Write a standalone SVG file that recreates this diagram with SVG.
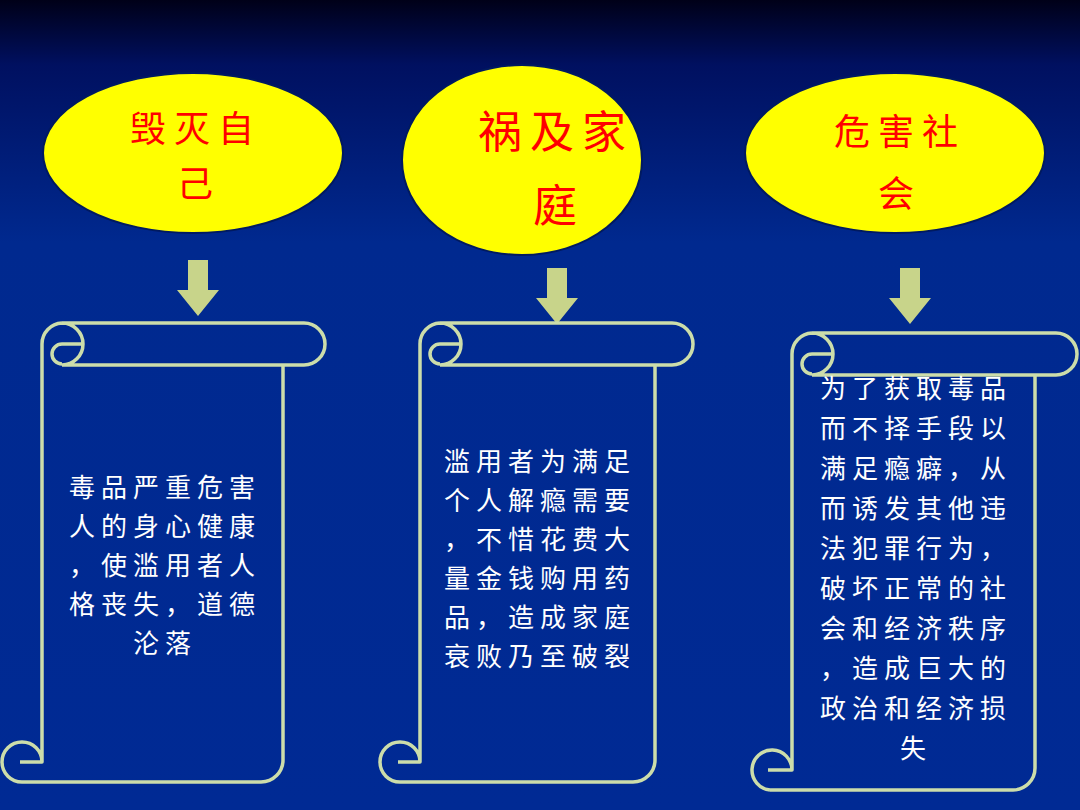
<svg xmlns="http://www.w3.org/2000/svg" width="1080" height="810" viewBox="0 0 1080 810">
<defs>
<linearGradient id="bg" x1="0" y1="0" x2="0" y2="1">
<stop offset="0" stop-color="#000018"/><stop offset="0.08" stop-color="#001060"/><stop offset="0.3" stop-color="#00298f"/><stop offset="1" stop-color="#002a94"/>
</linearGradient>
</defs>
<style>
.el{fill:#ffff00;stroke:#001a60;stroke-width:2}
.et{fill:#ff0000;font-family:"Noto Sans CJK SC",sans-serif;text-anchor:middle;letter-spacing:8px}
.sc{fill:none;stroke:#ccddaa;stroke-width:3.5;stroke-linejoin:round}
.st{fill:#ffffff;font-family:"Noto Sans CJK SC",sans-serif;font-size:26px;text-anchor:middle;letter-spacing:6px}
.ar{fill:#c8d48a}
</style>
<rect width="1080" height="810" fill="url(#bg)"/>
<g id="n1">
<ellipse class="el" cx="193" cy="153" rx="150" ry="80"/>
<text class="et" font-size="36" x="196" y="142">毁灭自</text><text class="et" font-size="36" x="199" y="197">己</text>
</g>
<g id="n2">
<ellipse class="el" cx="522" cy="160" rx="120" ry="95"/>
<text class="et" font-size="44" x="556" y="148">祸及家</text><text class="et" font-size="44" x="559" y="222">庭</text>
</g>
<g id="n3">
<ellipse class="el" cx="895" cy="153" rx="150" ry="80"/>
<text class="et" font-size="36" x="900" y="145">危害社</text><text class="et" font-size="36" x="900" y="207">会</text>
</g>
<g id="connectors">
<polygon class="ar" points="188,260 208,260 208,290 219,290 198,316 177,290 188,290"/>
<polygon class="ar" points="547,268 567,268 567,298 578,298 557,324 536,298 547,298"/>
<polygon class="ar" points="900,268 920,268 920,298 931,298 910,324 889,298 900,298"/>
</g>
<g id="s1">
<path class="sc" d="M62,323 H304 A21,21 0 0 1 304,365 H62 M62,323 A21,21 0 0 0 42,344 V742 M62,323 A21,21 0 0 1 62,365 M83,344 H62 A10,10 0 0 0 62,364 M283,365 V760 A22,22 0 0 1 261,782 H22 M22,782 A20,20 0 1 1 42,762 V742 M42,762 H20"/>
<text class="st" x="165" y="497">毒品严重危害</text><text class="st" x="165" y="536">人的身心健康</text><text class="st" x="165" y="575">，使滥用者人</text><text class="st" x="165" y="614">格丧失，道德</text><text class="st" x="165" y="653">沦落</text>
</g>
<g id="s2">
<path class="sc" d="M440,323 H672 A21,21 0 0 1 672,365 H440 M440,323 A21,21 0 0 0 420,344 V742 M440,323 A21,21 0 0 1 440,365 M461,344 H440 A10,10 0 0 0 440,364 M655,365 V760 A22,22 0 0 1 633,782 H400 M400,782 A20,20 0 1 1 420,762 V742 M420,762 H398"/>
<text class="st" x="540" y="471">滥用者为满足</text><text class="st" x="540" y="510">个人解瘾需要</text><text class="st" x="540" y="549">，不惜花费大</text><text class="st" x="540" y="588">量金钱购用药</text><text class="st" x="540" y="627">品，造成家庭</text><text class="st" x="540" y="666">衰败乃至破裂</text>
</g>
<g id="s3">
<path class="sc" d="M812,333 H1056 A21,21 0 0 1 1056,375 H812 M812,333 A21,21 0 0 0 792,354 V750 M812,333 A21,21 0 0 1 812,375 M833,354 H812 A10,10 0 0 0 812,374 M1035,375 V768 A22,22 0 0 1 1013,790 H770 M770,790 A20,20 0 1 1 792,770 V750 M792,770 H768"/>
<text class="st" x="916" y="398">为了获取毒品</text><text class="st" x="916" y="438">而不择手段以</text><text class="st" x="916" y="478">满足瘾癖，从</text><text class="st" x="916" y="518">而诱发其他违</text><text class="st" x="916" y="558">法犯罪行为，</text><text class="st" x="916" y="598">破坏正常的社</text><text class="st" x="916" y="638">会和经济秩序</text><text class="st" x="916" y="678">，造成巨大的</text><text class="st" x="916" y="718">政治和经济损</text><text class="st" x="916" y="758">失</text>
</g>
</svg>
